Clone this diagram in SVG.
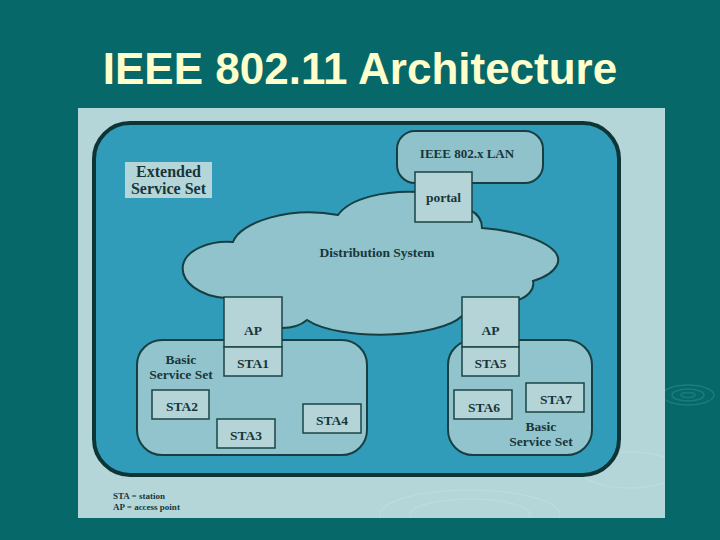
<svg xmlns="http://www.w3.org/2000/svg" width="720" height="540" viewBox="0 0 720 540">
<defs>
<clipPath id="pc"><rect x="78" y="108" width="587" height="410"/></clipPath>
</defs>
<style>
.t{font-family:"Liberation Serif","Times New Roman",serif;font-weight:bold;fill:#18363a;text-anchor:middle}
.box{fill:#b4d4d7;stroke:#1a4446;stroke-width:1.5}
.bss{fill:#92c4ce;stroke:#173f42;stroke-width:2}
.rip{fill:none;stroke:#2a8a8a;stroke-width:1.5;opacity:0.6}
</style>
<rect x="0" y="0" width="720" height="540" fill="#066868"/>
<g class="rip">
<ellipse cx="688" cy="395" rx="26" ry="10"/>
<ellipse cx="688" cy="395" rx="16" ry="6"/>
<ellipse cx="688" cy="395" rx="7" ry="2.5"/>
</g>
<text x="360" y="84" font-family="Liberation Sans, Arial, sans-serif" font-weight="bold" font-size="44" fill="#ffffcc" text-anchor="middle">IEEE 802.11 Architecture</text>
<rect x="78" y="108" width="587" height="410" fill="#b5d6d9"/>
<g fill="none" stroke="#c4e0e2" stroke-width="1.2" opacity="0.6" clip-path="url(#pc)">
<ellipse cx="470" cy="515" rx="90" ry="25"/>
<ellipse cx="470" cy="515" rx="60" ry="16"/>
<ellipse cx="630" cy="470" rx="50" ry="18"/>
</g>
<g id="ess">
<rect x="94" y="123" width="525" height="352" rx="36" fill="#319cb9" stroke="#0d3536" stroke-width="4"/>
<rect x="125" y="162" width="87" height="36" fill="#b5d6d9"/>
<text class="t" x="168.5" y="177" font-size="16">Extended</text>
<text class="t" x="168.5" y="194" font-size="16">Service Set</text>
</g>
<g id="connectors"></g>
<g id="lan">
<rect x="397" y="131" width="146" height="52" rx="18" fill="#8fc2cb" stroke="#173f42" stroke-width="2"/>
<text class="t" x="467" y="158" font-size="13">IEEE 802.x LAN</text>
</g>
<g id="ds">
<path d="M225 298 C200 296 180 282 183 265 C186 250 210 240 233 242 C240 222 290 206 338 215 C350 198 385 190 420 192 L470 210 C478 214 482 220 482 228 C530 232 565 248 557 265 C553 273 543 278 533 281 C535 290 527 297 518 300 L462 316 C440 338 340 342 307 320 C300 326 292 328 282 328 Z" fill="#90c3cc" stroke="#173f42" stroke-width="2"/>
<text class="t" x="377" y="257" font-size="13.5">Distribution System</text>
</g>
<g id="portal">
<rect class="box" x="415" y="172" width="57" height="50"/>
<text class="t" x="443.5" y="202" font-size="13.5">portal</text>
</g>
<g id="bss1">
<rect class="bss" x="137" y="340" width="230" height="115" rx="25"/>
<text class="t" x="181" y="364" font-size="13.5">Basic</text>
<text class="t" x="181" y="379" font-size="13.5">Service Set</text>
</g>
<g id="bss2">
<rect class="bss" x="448" y="340" width="144" height="115" rx="25"/>
<text class="t" x="541" y="431" font-size="13.5">Basic</text>
<text class="t" x="541" y="446" font-size="13.5">Service Set</text>
</g>
<g id="ap1">
<rect class="box" x="224" y="297" width="58" height="50"/>
<text class="t" x="253" y="335" font-size="13.5">AP</text>
</g>
<g id="sta1">
<rect class="box" x="224" y="347" width="58" height="29"/>
<text class="t" x="253" y="368" font-size="13.5">STA1</text>
</g>
<g id="ap2">
<rect class="box" x="462" y="297" width="57" height="50"/>
<text class="t" x="490.5" y="335" font-size="13.5">AP</text>
</g>
<g id="sta5">
<rect class="box" x="462" y="347" width="57" height="29"/>
<text class="t" x="490.5" y="368" font-size="13.5">STA5</text>
</g>
<g id="sta2">
<rect class="box" x="152" y="390" width="57" height="29"/>
<text class="t" x="182" y="411" font-size="13.5">STA2</text>
</g>
<g id="sta3">
<rect class="box" x="217" y="419" width="58" height="29"/>
<text class="t" x="246" y="440" font-size="13.5">STA3</text>
</g>
<g id="sta4">
<rect class="box" x="303" y="404" width="58" height="29"/>
<text class="t" x="332" y="425" font-size="13.5">STA4</text>
</g>
<g id="sta6">
<rect class="box" x="454" y="390" width="58" height="29"/>
<text class="t" x="484" y="412" font-size="13.5">STA6</text>
</g>
<g id="sta7">
<rect class="box" x="526" y="383" width="58" height="29"/>
<text class="t" x="556" y="404" font-size="13.5">STA7</text>
</g>
<g id="legend">
<text class="t" x="113" y="499" font-size="9" style="text-anchor:start">STA = station</text>
<text class="t" x="113" y="510" font-size="9" style="text-anchor:start">AP = access point</text>
</g>
</svg>
